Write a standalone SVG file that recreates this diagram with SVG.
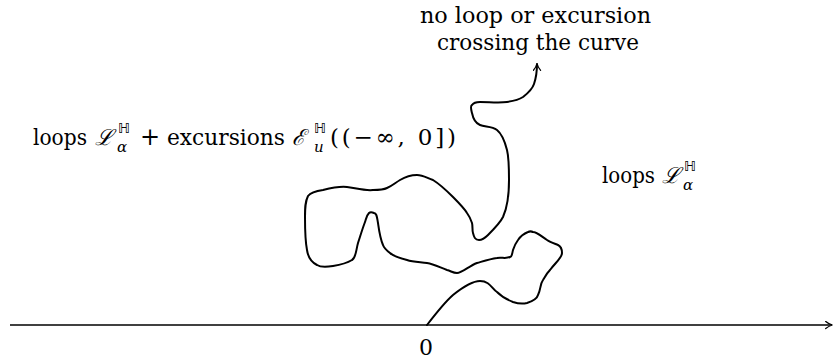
<svg xmlns="http://www.w3.org/2000/svg" width="834" height="361" viewBox="0 0 834 361">
<style>
text{font-family:"DejaVu Serif",serif;font-size:22px;fill:#000}
.m{font-style:italic}
.sup{font-family:"DejaVu Sans","DejaVu Serif",sans-serif;font-size:14px}
.sub{font-size:15px;font-style:italic}
.ln{fill:none;stroke:#000;stroke-width:2;stroke-linecap:round;stroke-linejoin:round}
.ax{fill:none;stroke:#000;stroke-width:1.7}
</style>
<defs>
<marker id="ah" viewBox="0 0 10 10" refX="8.5" refY="5" markerWidth="9" markerHeight="9" orient="auto" markerUnits="userSpaceOnUse">
<path d="M1.5,1 Q5,4 9,5 Q5,6 1.5,9" fill="none" stroke="#000" stroke-width="1.4" stroke-linecap="round"/>
</marker>
</defs>
<rect width="834" height="361" fill="#fff"/>
<g id="connectors">
<line class="ax" x1="10" y1="325" x2="832" y2="325" marker-end="url(#ah)"/>
<path id="curve" class="ln" marker-end="url(#ah)" d="M427,325 C437,312 445,302 453,295 C463,287 472,281 480,281 C490,281 492,289 497,292 C503,298 508,300 513,302 C519,304 523,304 527,303 C533,301 537,299 538,295 C541,289 540,284 543,280 C546,275 547,273 550,270 C555,263 562,258 562,253 C562,248 560,246 558,245 C553,243 550,242 547,240 C541,236 537,232 533,232 C531,231 530,231 528,232 C523,234 520,237 518,240 C515,244 514,247 513,250 C512,254 512,257 510,257 C506,259 501,257 497,258 C490,259 484,261 477,263 C469,266 462,273 457,273 C453,273 451,271 447,270 C441,268 434,264 427,263 C420,262 413,262 407,260 C399,258 393,256 390,253 C386,250 384,248 383,245 C380,238 379,230 378,223 C377,218 377,213 374,213 C372,212 370,212 369,213 C366,216 366,220 365,222 C362,230 360,237 358,243 C356,250 356,258 352,260 C347,263 339,265 333,266 C327,267 320,267 317,265 C311,262 308,257 307,250 C305,240 305,228 305,217 C305,208 305,202 308,196 C311,192 316,191 323,190 C331,188 339,186 347,187 C355,188 365,191 373,190 C379,190 383,190 387,188 C392,186 395,183 400,180 C405,177 411,175 417,175 C423,175 427,178 433,180 C441,185 447,191 453,197 C459,203 464,208 467,213 C470,217 471,220 472,223 C473,227 472,230 473,233 C474,237 475,240 479,240 C482,240 485,238 488,235 C495,228 500,223 503,217 C508,206 509,193 509,180 C509,168 509,158 507,150 C505,142 502,134 497,130 C492,126 485,127 480,125 C475,123 473,118 472,113 C471,109 470,106 472,105 C474,102 477,102 480,102 C489,102 499,103 507,102 C514,101 520,99 523,97 C528,93 532,90 534,84 C536,78 537,72 537,64"/>
</g>
<g id="label-top">
<text x="420" y="23" textLength="231" lengthAdjust="spacingAndGlyphs">no loop or excursion</text>
<text x="437" y="50" textLength="202" lengthAdjust="spacingAndGlyphs">crossing the curve</text>
</g>
<g id="label-left">
<text x="33" y="145" textLength="54" lengthAdjust="spacingAndGlyphs">loops</text>
<text x="95" y="145" class="m">ℒ</text>
<text x="118" y="133" class="sup">ℍ</text>
<text x="117" y="152" class="sub">α</text>
<text x="140" y="145" style="font-size:24px">+</text>
<text x="167" y="145" textLength="118" lengthAdjust="spacingAndGlyphs">excursions</text>
<text x="292" y="145" class="m">ℰ</text>
<text x="314" y="133" class="sup">ℍ</text>
<text x="314" y="152" class="sub">u</text>
<text x="330" y="145" textLength="126" lengthAdjust="spacing" style="font-size:23px">((−∞, 0])</text>
</g>
<g id="label-right">
<text x="602" y="183" textLength="53" lengthAdjust="spacingAndGlyphs">loops</text>
<text x="662" y="183" class="m">ℒ</text>
<text x="684" y="171" class="sup">ℍ</text>
<text x="683" y="190" class="sub">α</text>
</g>
<g id="label-zero">
<text x="426" y="355" text-anchor="middle">0</text>
</g>
</svg>
